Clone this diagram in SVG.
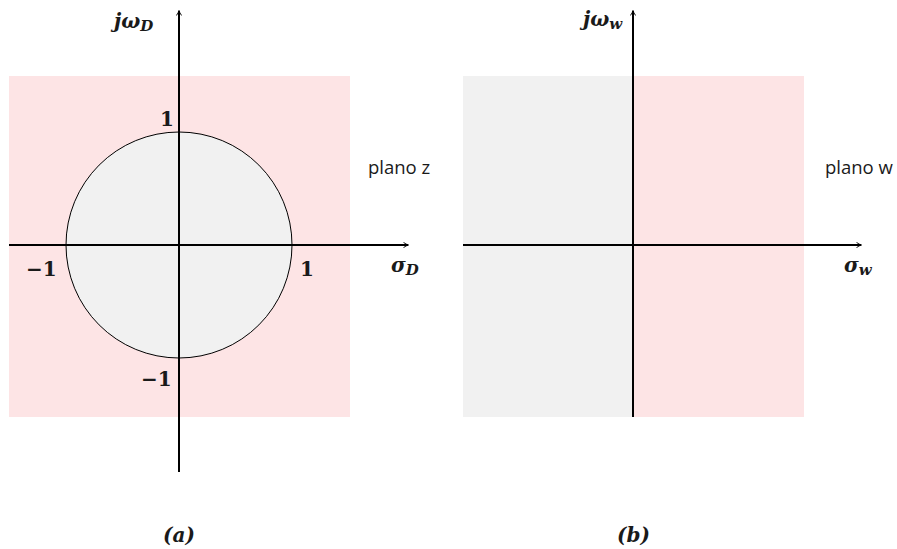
<svg xmlns="http://www.w3.org/2000/svg" width="897" height="549" viewBox="0 0 897 549">
<style>
.pink{fill:#fde4e5;stroke:none}
.gray{fill:#f1f1f1}
.ax{stroke:#000;stroke-width:2;fill:none;marker-end:url(#arr)}
.m{font-family:"DejaVu Serif","Liberation Serif",serif;font-weight:bold;font-style:italic;font-size:20px;fill:#1a1a1a}
.n{font-family:"DejaVu Serif","Liberation Serif",serif;font-weight:bold;font-size:20px;fill:#1a1a1a}
.s{font-family:"DejaVu Serif","Liberation Serif",serif;font-weight:bold;font-style:italic;font-size:15px;fill:#1a1a1a}
.t{font-family:"Open Sans","DejaVu Sans",sans-serif;font-size:18.5px;fill:#1a1a1a}
</style>
<defs>
<marker id="arr" viewBox="0 0 10 10" refX="8" refY="5" markerWidth="6" markerHeight="6" orient="auto" markerUnits="userSpaceOnUse">
<path d="M1,1 Q5,4.2 9,5 Q5,5.8 1,9" stroke="#000" stroke-width="1.6" fill="none" stroke-linecap="round"/>
</marker>
</defs>
<g id="panel-a">
<rect class="pink" x="9" y="76" width="341" height="341"/>
<circle class="gray" cx="179" cy="245" r="113" stroke="#000" stroke-width="1"/>
</g>
<g id="panel-b">
<rect class="gray" x="463" y="76" width="170" height="341"/>
<rect class="pink" x="633" y="76" width="171" height="341"/>
</g>
<g id="connectors">
<line class="ax" x1="179" y1="472" x2="179" y2="11"/>
<line class="ax" x1="9" y1="245" x2="408" y2="245"/>
<line class="ax" x1="633" y1="417" x2="633" y2="11"/>
<line class="ax" x1="463" y1="245" x2="861" y2="245"/>
</g>
<g id="labels-a">
<text class="m" x="114" y="28">jω<tspan class="s" dy="3">D</tspan></text>
<text class="n" x="160" y="126">1</text>
<text class="n" x="26" y="276">−1</text>
<text class="n" x="300" y="276">1</text>
<text class="m" x="391" y="272">σ<tspan class="s" dy="3">D</tspan></text>
<text class="n" x="141" y="386">−1</text>
<text class="t" x="368" y="174">plano z</text>
<text class="m" x="163" y="542">(a)</text>
</g>
<g id="labels-b">
<text class="m" x="583" y="26">jω<tspan class="s" dy="3">w</tspan></text>
<text class="m" x="844" y="272">σ<tspan class="s" dy="3">w</tspan></text>
<text class="t" x="825" y="174">plano w</text>
<text class="m" x="617" y="542">(b)</text>
</g>
</svg>
